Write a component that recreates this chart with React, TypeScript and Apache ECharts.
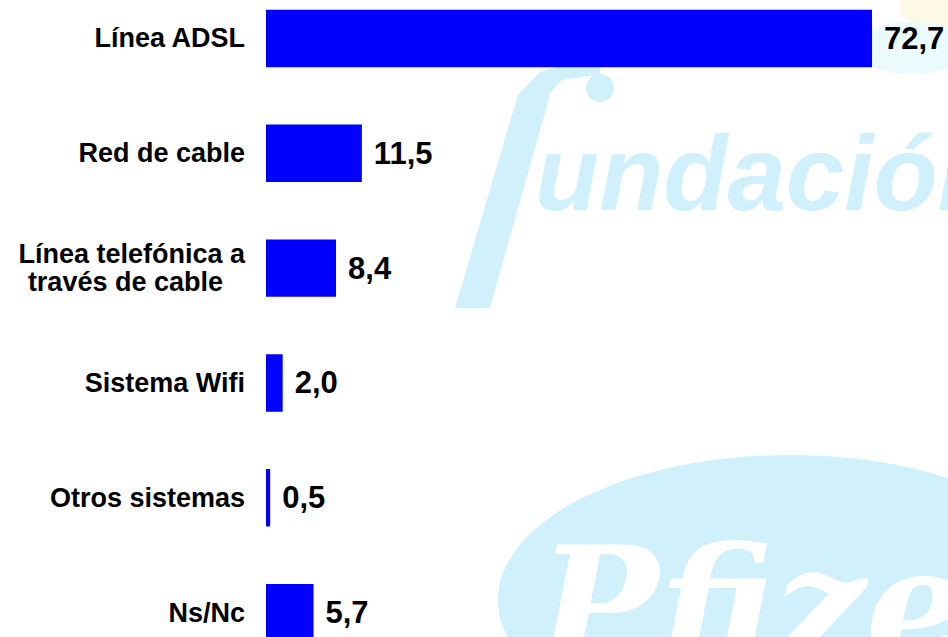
import React, { useEffect, useRef } from "react";
import * as echarts from "echarts";

const categories: string[] = [
  "Línea ADSL",
  "Red de cable",
  "Línea telefónica a\ntravés de cable",
  "Sistema Wifi",
  "Otros sistemas",
  "Ns/Nc",
];
const values: number[] = [72.7, 11.5, 8.4, 2.0, 0.5, 5.7];
const axisMax = 82;

const WM = "#d0f0fb";
const FONT = "'Liberation Sans', Arial, sans-serif";

export default function App() {
  const ref = useRef<HTMLDivElement>(null);
  useEffect(() => {
    if (!ref.current) return;
    const chart = echarts.init(ref.current, null, { renderer: "svg" });
    chart.setOption({
      animation: false,
      backgroundColor: "#ffffff",
      graphic: [
        { type: "ellipse", z: -5, shape: { cx: 790, cy: 600, rx: 292, ry: 145 }, style: { fill: WM } },
        {
          type: "text", z: -4, x: 538, y: 605,
          style: { text: "Pfizer", fill: "#ffffff", font: "italic bold 160px 'DejaVu Serif'", verticalAlign: "middle", textVerticalAlign: "middle" },
        },
        { type: "polygon", z: -5, shape: { points: [[455, 308], [490, 308], [550, 95], [518, 95]] }, style: { fill: WM } },
        { type: "polygon", z: -5, shape: { points: [[518, 95], [548, 95], [562, 80], [590, 76], [600, 76], [600, 62], [572, 62], [540, 72]] }, style: { fill: WM } },
        { type: "circle", z: -5, shape: { cx: 600, cy: 88, r: 14 }, style: { fill: WM } },
        {
          type: "text", z: -5, x: 535, y: 173,
          style: { text: "undación", fill: WM, font: "italic bold 105px 'Liberation Sans'", verticalAlign: "middle", textVerticalAlign: "middle" },
        },
        { type: "ellipse", z: -6, shape: { cx: 935, cy: 6, rx: 36, ry: 20 }, style: { fill: "#fdf9e4" } },
        { type: "ellipse", z: -6, shape: { cx: 912, cy: 48, rx: 60, ry: 26 }, style: { fill: "#eafafd" } },
      ],
      grid: {
        left: 266,
        top: -19,
        width: axisMax * 8.336,
        height: 689,
        containLabel: false,
        outerBoundsMode: "none",
      },
      xAxis: {
        type: "value",
        min: 0,
        max: axisMax,
        show: false,
      },
      yAxis: {
        type: "category",
        data: categories,
        inverse: true,
        axisLine: { show: false },
        axisTick: { show: false },
        splitLine: { show: false },
        axisLabel: {
          margin: 21,
          color: "#000000",
          fontFamily: FONT,
          fontWeight: "bold",
          fontSize: 27,
          lineHeight: 28,
          align: "right",
          formatter: (v: string) => {
            const parts = v.split("\n");
            if (parts.length === 1) return v;
            return `{a|${parts[0]}}\n{b|${parts[1]}}`;
          },
          rich: {
            a: { fontFamily: FONT, fontWeight: "bold", fontSize: 27, lineHeight: 28, color: "#000" },
            b: { fontFamily: FONT, fontWeight: "bold", fontSize: 27, lineHeight: 28, color: "#000", padding: [0, 22, 0, 0] },
          },
        },
      },
      series: [
        {
          type: "bar",
          data: values,
          barWidth: "50%",
          itemStyle: { color: "#0000ff" },
          label: {
            show: true,
            position: "right",
            distance: 12,
            color: "#000000",
            fontFamily: FONT,
            fontWeight: "bold",
            fontSize: 31,
            formatter: (p: any) => Number(p.value).toFixed(1).replace(".", ","),
          },
        },
      ],
    });
    return () => chart.dispose();
  }, []);
  return (
    <div
      ref={ref}
      style={{ position: "fixed", left: 0, top: 0, width: 948, height: 637 }}
    />
  );
}
